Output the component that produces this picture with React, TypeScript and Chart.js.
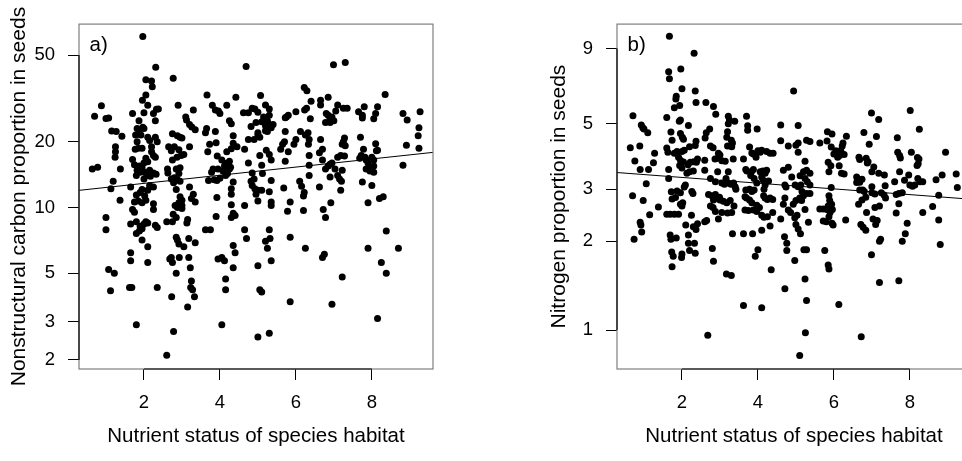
import React, { useEffect, useRef } from "react";
import { Chart, registerables } from "chart.js";

Chart.register(...registerables);

// ---------- shared axis settings ----------
const X_MIN = 0.29;
const X_MAX = 9.61;
const X_TICKS = [2, 4, 6, 8];
const X_TITLE = "Nutrient status of species habitat";

// ---------- panel a: nonstructural carbon ----------
const A_Y_TITLE = "Nonstructural carbon proportion in seeds";
const A_Y_TICKS = [2, 3, 5, 10, 20, 50];
const A_Y_MIN = 1.818;
const A_Y_MAX = 69.3;
const A_FIT_INTERCEPT = 1.0732; // log10 scale
const A_FIT_SLOPE = 0.01867;
const carbonPoints: [number, number][] = [
  [0.64, 15.0], [0.78, 15.3], [0.7, 26.2], [0.88, 29.3], [1.0, 25.6], [1.07, 25.7], [1.0, 9.0], [1.0, 7.9],
  [1.07, 5.2], [1.22, 5.0], [1.12, 4.15], [1.13, 12.2], [1.19, 13.2], [1.15, 22.4], [1.27, 22.3], [1.25, 19.0],
  [1.25, 18.0], [1.24, 17.0], [1.38, 15.0], [1.37, 10.8], [1.42, 21.2],
  [1.97, 60.8], [2.31, 43.9], [2.05, 38.5], [2.2, 38.0], [2.22, 35.8], [1.96, 31.0], [2.05, 32.8], [2.1, 29.4],
  [2.0, 27.2], [1.7, 27.0], [2.25, 27.0], [2.33, 28.2], [2.38, 28.3], [2.3, 25.0], [1.87, 25.0], [1.82, 23.0],
  [1.97, 23.3], [2.0, 23.0], [1.78, 21.5], [1.88, 22.0], [1.92, 21.5], [2.1, 21.0], [2.15, 20.3], [2.3, 21.0],
  [2.35, 20.0], [1.82, 20.0], [1.85, 18.7], [1.77, 18.5], [1.95, 18.7], [2.2, 19.0], [2.2, 18.0], [2.25, 17.3],
  [2.3, 17.0], [2.05, 16.8], [1.7, 16.6], [1.75, 15.7], [1.88, 15.5], [1.95, 15.2], [2.0, 16.0], [2.1, 16.2],
  [1.82, 14.8], [1.9, 14.5], [2.02, 14.5], [2.08, 14.0], [2.15, 14.8], [2.25, 14.4], [2.32, 14.2], [2.0, 13.5],
  [1.8, 14.0], [2.17, 13.9], [2.2, 14.3], [1.65, 12.4], [1.95, 12.1], [2.1, 12.0], [2.15, 12.6], [2.25, 12.4],
  [1.8, 11.4], [1.9, 11.7], [2.02, 11.3], [1.85, 10.7], [1.95, 10.5], [1.75, 10.6], [2.05, 10.8], [2.25, 10.4],
  [2.25, 9.8], [1.7, 9.8], [1.75, 9.5], [2.05, 8.6], [1.65, 8.4], [1.8, 8.6], [1.9, 8.2], [2.0, 8.4],
  [2.1, 8.5], [1.95, 8.0], [2.3, 8.3], [2.35, 8.1], [1.8, 7.6], [1.88, 7.8], [1.95, 7.1], [2.1, 6.6],
  [1.65, 6.2], [1.65, 5.7], [2.1, 5.6], [1.62, 4.3], [1.68, 4.3], [2.35, 4.3], [1.8, 2.9],
  [2.77, 39.1], [2.9, 29.4], [3.3, 28.0], [3.1, 26.0], [3.12, 25.2], [3.2, 24.0], [3.26, 23.4], [3.35, 22.7],
  [2.75, 21.8], [2.88, 21.3], [2.95, 21.0], [3.0, 20.8], [2.8, 19.0], [2.65, 19.0], [2.72, 18.2], [2.92, 18.4],
  [3.2, 19.0], [2.87, 17.0], [2.98, 17.3], [3.05, 17.5], [2.75, 16.5], [2.62, 15.0], [2.63, 14.4], [2.85, 15.0],
  [2.92, 14.3], [2.95, 15.2], [2.8, 13.7], [2.72, 13.5], [2.78, 13.0], [2.88, 13.4], [2.95, 13.2], [2.85, 12.1],
  [3.2, 12.4], [3.3, 11.5], [2.95, 11.2], [3.0, 10.8], [2.92, 10.5], [3.0, 10.2], [2.82, 10.2], [2.88, 10.0],
  [3.0, 9.9], [3.25, 11.0], [3.35, 10.6], [2.77, 9.3], [2.75, 8.6], [2.85, 9.0], [2.6, 8.6], [3.15, 8.8],
  [3.13, 8.5], [2.85, 7.3], [2.88, 7.1], [2.92, 6.8], [3.05, 6.6], [3.18, 7.2], [3.35, 6.9], [2.68, 5.8],
  [2.72, 5.9], [2.75, 5.6], [2.93, 5.9], [3.18, 5.9], [2.85, 5.0], [3.22, 5.3], [3.25, 4.6], [3.23, 4.3],
  [3.28, 4.2], [2.73, 3.9], [3.33, 3.9], [3.15, 3.5], [2.78, 2.7], [2.6, 2.1],
  [3.66, 32.8], [3.8, 29.4], [3.88, 28.0], [3.96, 27.7], [4.0, 27.0], [4.18, 29.4], [4.42, 32.0], [4.25, 25.0],
  [4.3, 24.2], [3.65, 23.0], [3.62, 22.0], [3.88, 22.3], [4.35, 21.3], [3.73, 19.5], [3.9, 19.8], [3.68, 18.0],
  [4.18, 18.0], [4.3, 18.6], [4.35, 19.7], [4.45, 19.0], [3.93, 17.2], [4.05, 16.5], [4.15, 15.9], [4.25, 16.3],
  [3.82, 15.0], [3.78, 14.5], [3.95, 15.0], [4.08, 14.7], [4.12, 15.5], [4.2, 14.3], [4.25, 15.0], [4.15, 14.0],
  [4.28, 15.3], [3.7, 13.3], [3.85, 13.4], [3.92, 13.3], [4.0, 13.6], [4.35, 13.1], [4.3, 12.2], [3.92, 11.1],
  [4.3, 11.5], [4.3, 10.3], [4.35, 9.4], [4.3, 9.0], [4.4, 9.2], [3.9, 9.1], [3.62, 7.9], [3.75, 7.9],
  [4.35, 6.7], [4.4, 6.2], [3.95, 5.8], [4.05, 5.9], [4.12, 5.7], [4.35, 5.3], [4.15, 4.7], [4.15, 4.2],
  [4.05, 2.9],
  [4.69, 44.3], [5.07, 32.6], [4.62, 27.2], [4.75, 27.2], [4.85, 28.5], [4.92, 28.3], [5.0, 27.3], [5.15, 26.0],
  [5.2, 29.5], [5.3, 28.3], [5.3, 26.5], [5.25, 25.0], [5.1, 24.7], [5.2, 23.7], [5.3, 24.0], [5.35, 23.2],
  [5.4, 24.0], [5.25, 22.3], [4.82, 23.5], [4.95, 24.5], [5.0, 22.0], [4.75, 20.5], [4.9, 20.5], [5.0, 21.5],
  [5.05, 21.0], [5.2, 22.5], [4.75, 16.0], [4.65, 18.5], [5.05, 17.3], [5.22, 18.3], [5.3, 17.5], [5.35, 16.5],
  [5.1, 15.6], [4.85, 14.4], [4.9, 13.5], [4.82, 13.2], [4.85, 12.6], [4.92, 12.2], [5.0, 12.0], [4.95, 11.5],
  [5.12, 14.3], [5.1, 12.0], [5.35, 13.3], [5.3, 11.8], [5.0, 10.7], [5.35, 10.6], [5.35, 10.2], [4.65, 10.2],
  [4.65, 7.9], [4.7, 7.2], [5.2, 7.0], [5.25, 6.5], [5.32, 7.2], [5.3, 7.9], [5.35, 5.7], [5.0, 5.4],
  [5.05, 4.2], [5.1, 4.1], [5.0, 2.55], [5.3, 2.65],
  [5.72, 25.8], [5.75, 26.0], [5.8, 26.5], [5.72, 22.3], [5.7, 20.0], [5.72, 16.3], [5.6, 18.5], [5.65, 19.5],
  [5.8, 18.0], [5.68, 12.3], [5.95, 19.5], [6.0, 27.5], [6.12, 22.3], [6.22, 35.5], [6.29, 34.3], [6.23, 28.0],
  [6.28, 28.5], [6.4, 30.7], [6.25, 21.5], [6.32, 22.0], [6.35, 20.5], [6.33, 19.5], [6.35, 17.3], [6.35, 15.6],
  [6.35, 14.0], [6.1, 13.2], [6.15, 12.5], [6.22, 11.7], [6.2, 11.3], [6.2, 9.7], [5.85, 10.6], [5.78, 9.6],
  [5.85, 7.3], [6.25, 6.5], [5.85, 3.7], [6.0, 20.5], [6.38, 25.5],
  [6.99, 45.1], [7.3, 46.2], [6.65, 31.0], [6.65, 29.5], [6.85, 32.0], [6.8, 27.0], [6.85, 26.5], [6.9, 25.5],
  [6.95, 26.0], [7.0, 25.0], [6.78, 24.5], [6.9, 24.5], [7.1, 29.5], [7.05, 27.7], [7.35, 28.5], [7.25, 28.5],
  [6.65, 20.5], [6.7, 18.5], [6.62, 17.8], [6.7, 16.5], [6.78, 15.0], [6.85, 15.5], [6.9, 15.8], [6.95, 16.0],
  [7.03, 15.0], [7.1, 17.0], [7.18, 17.3], [7.28, 17.2], [7.25, 20.0], [7.3, 19.2], [7.22, 19.5], [7.28, 20.8],
  [7.1, 14.0], [7.15, 13.5], [7.2, 13.2], [7.22, 14.8], [6.9, 13.8], [6.62, 12.4], [7.18, 12.0], [6.92, 10.5],
  [6.72, 9.8], [6.78, 9.0], [6.7, 5.9], [6.75, 6.1], [7.22, 4.8], [6.95, 3.6],
  [7.65, 27.5], [7.75, 26.5], [7.8, 29.0], [7.75, 25.7], [8.1, 27.0], [8.15, 29.0], [8.05, 25.5], [8.35, 33.0],
  [7.7, 21.0], [7.78, 18.5], [7.72, 17.3], [7.68, 16.8], [7.82, 17.0], [7.85, 16.5], [7.9, 16.0], [7.85, 15.0],
  [7.95, 14.7], [8.0, 17.0], [8.05, 16.5], [8.05, 15.5], [8.1, 19.6], [8.12, 18.2], [8.15, 18.3], [8.05, 14.5],
  [7.95, 15.2], [7.75, 13.1], [8.0, 12.6], [7.9, 10.5], [8.2, 11.0], [8.3, 11.2], [7.9, 6.5], [8.38, 7.8],
  [8.25, 5.6], [8.38, 5.0], [8.15, 3.1],
  [8.82, 27.0], [8.93, 25.2], [9.27, 27.5], [9.24, 23.2], [9.22, 21.3], [9.24, 18.7], [8.91, 19.3], [8.82, 15.6],
  [8.7, 6.5],
];

// ---------- panel b: nitrogen ----------
const B_Y_TITLE = "Nitrogen proportion in seeds";
const B_Y_TICKS = [1, 2, 3, 5, 9];
const B_Y_MIN = 0.738;
const B_Y_MAX = 10.88;
const B_FIT_INTERCEPT = 0.5365; // log10 scale
const B_FIT_SLOPE = -0.0097;
const nitrogenPoints: [number, number][] = [
  [0.64, 4.15], [0.71, 5.32], [0.76, 3.74], [0.7, 2.85], [0.74, 2.03], [0.89, 4.2], [0.9, 3.5], [0.93, 4.95],
  [0.97, 4.85], [1.0, 4.8], [1.1, 4.66], [1.06, 3.13], [0.98, 2.75], [0.9, 2.32], [0.92, 2.27], [0.94, 2.15],
  [1.15, 2.46], [1.12, 3.5], [1.25, 3.69], [1.28, 3.97], [1.38, 2.61],
  [1.67, 9.9], [1.65, 7.5], [1.67, 7.1], [1.97, 7.66], [2.0, 6.57], [1.85, 6.2], [1.84, 6.07], [1.94, 5.77],
  [1.8, 5.67], [2.32, 8.66], [2.35, 6.45], [2.37, 5.9], [1.6, 5.25], [1.93, 5.1], [1.96, 5.15], [2.17, 4.93],
  [1.71, 4.69], [1.96, 4.63], [2.01, 4.5], [1.74, 4.4], [2.04, 4.43], [2.2, 4.18], [1.6, 4.14], [1.63, 4.0],
  [1.8, 3.97], [1.87, 4.03], [2.0, 4.03], [2.06, 4.07], [2.37, 4.36], [2.35, 4.22], [1.65, 3.5], [1.91, 3.85],
  [1.96, 3.76], [2.04, 3.71], [1.94, 3.61], [2.0, 3.54], [2.16, 3.63], [2.22, 3.7], [2.31, 3.72], [2.38, 3.7],
  [2.41, 3.8], [2.13, 3.4], [2.2, 3.44], [2.3, 3.46], [1.65, 3.26], [1.72, 2.94], [1.87, 2.96], [1.96, 2.92],
  [2.06, 3.05], [2.09, 3.1], [2.26, 2.95], [2.29, 2.9], [1.74, 2.78], [1.83, 2.81], [1.96, 2.67], [2.0, 2.63],
  [2.02, 2.7], [1.6, 2.47], [1.69, 2.47], [1.8, 2.47], [1.91, 2.47], [2.25, 2.45], [2.1, 2.27], [2.3, 2.24],
  [2.37, 2.19], [2.41, 2.29], [1.69, 2.1], [1.71, 2.03], [1.85, 2.05], [2.17, 2.1], [2.17, 1.97], [2.33, 1.97],
  [1.73, 1.84], [1.77, 1.78], [2.0, 1.81], [1.99, 1.76], [2.2, 1.86], [2.35, 1.82], [1.74, 1.64],
  [2.63, 5.9], [2.83, 5.72], [2.89, 5.39], [2.73, 4.8], [2.64, 4.66], [2.61, 4.47], [2.75, 4.2], [2.82, 4.15],
  [3.22, 5.3], [3.25, 5.15], [3.22, 5.0], [3.39, 5.1], [3.2, 4.7], [3.18, 4.5], [3.3, 4.4], [3.33, 4.3],
  [3.2, 4.2], [3.31, 4.18], [2.96, 3.97], [3.0, 3.92], [2.87, 3.8], [2.94, 3.82], [3.05, 3.75], [3.14, 3.73],
  [3.35, 3.8], [2.6, 3.76], [2.6, 3.48], [2.75, 3.26], [2.88, 3.18], [2.94, 3.44], [3.05, 3.15], [3.12, 3.12],
  [3.22, 3.15], [3.29, 3.12], [3.36, 3.15], [3.16, 3.26], [3.22, 3.44], [3.42, 3.0], [3.4, 3.06], [2.7, 2.88],
  [2.79, 2.85], [2.88, 2.88], [2.83, 2.76], [2.94, 2.79], [2.99, 2.82], [2.75, 2.63], [2.82, 2.6], [2.88, 2.52],
  [3.0, 2.76], [3.09, 2.73], [3.18, 2.7], [3.27, 2.75], [2.96, 2.38], [3.05, 2.5], [3.2, 2.49], [3.31, 2.5],
  [3.37, 2.63], [2.6, 2.33], [2.65, 2.35], [2.8, 1.89], [2.83, 1.71], [3.17, 1.55], [3.3, 1.53], [3.33, 2.12],
  [2.68, 0.96],
  [3.7, 5.3], [3.73, 4.92], [3.73, 4.75], [3.98, 4.8], [3.62, 3.8], [3.68, 3.5], [3.71, 3.46], [3.78, 4.17],
  [3.84, 3.98], [3.88, 3.95], [4.0, 4.05], [4.06, 4.0], [4.1, 4.07], [3.95, 3.85], [4.23, 4.03], [4.32, 3.97],
  [4.4, 3.97], [3.83, 3.44], [3.81, 3.34], [3.9, 3.26], [3.97, 3.15], [3.88, 3.5], [4.06, 3.44], [4.13, 3.46],
  [4.19, 3.4], [4.23, 3.48], [4.1, 3.3], [4.14, 3.22], [4.19, 3.1], [4.16, 3.0], [4.28, 3.2], [3.68, 2.98],
  [3.78, 3.0], [3.84, 2.95], [3.9, 2.98], [3.66, 2.83], [3.7, 2.8], [3.78, 2.76], [3.84, 2.7], [3.97, 2.65],
  [4.04, 2.6], [4.15, 2.85], [4.19, 2.8], [4.25, 2.77], [4.32, 2.8], [4.39, 2.77], [3.66, 2.55], [3.75, 2.54],
  [3.88, 2.55], [3.97, 2.52], [4.1, 2.45], [4.16, 2.41], [4.25, 2.42], [4.39, 2.5], [3.62, 2.12], [3.86, 2.12],
  [4.1, 2.18], [4.32, 2.25], [4.0, 1.87], [3.93, 1.78], [4.35, 1.6], [3.62, 1.21], [4.1, 1.19],
  [4.94, 6.45], [4.6, 4.95], [5.06, 4.93], [4.6, 4.38], [4.8, 4.2], [5.0, 4.23], [5.06, 4.3], [5.28, 4.4],
  [5.37, 4.35], [5.06, 4.0], [5.24, 3.73], [4.67, 3.48], [4.8, 3.56], [4.89, 3.3], [4.98, 3.1], [4.71, 3.1],
  [4.74, 3.05], [5.11, 3.33], [5.2, 3.44], [5.28, 3.48], [5.37, 3.4], [5.24, 3.26], [5.3, 3.18], [5.37, 3.1],
  [5.06, 3.06], [5.13, 3.1], [5.16, 2.95], [5.2, 2.85], [5.28, 2.9], [5.37, 2.9], [4.71, 2.8], [4.67, 2.67],
  [4.93, 2.67], [5.0, 2.75], [4.8, 2.55], [4.86, 2.5], [5.1, 2.8], [5.15, 2.75], [5.24, 2.56], [4.97, 2.4],
  [5.03, 2.45], [4.6, 2.38], [5.0, 2.28], [5.06, 2.2], [5.33, 2.32], [5.12, 2.12], [4.7, 2.07], [4.76, 1.97],
  [4.76, 1.86], [4.97, 1.72], [5.21, 1.87], [5.28, 1.87], [4.71, 1.38], [5.24, 1.49], [5.28, 1.26], [5.25, 0.98],
  [5.1, 0.82],
  [5.63, 4.3], [5.83, 4.7], [5.95, 4.62], [5.82, 4.37], [5.93, 4.17], [6.05, 4.05], [6.13, 4.0], [6.18, 4.06],
  [6.24, 4.3], [6.22, 4.2], [6.33, 4.54], [6.27, 3.93], [6.15, 3.9], [6.1, 3.85], [6.0, 3.95], [5.85, 3.7],
  [5.92, 3.6], [6.14, 3.6], [5.87, 3.44], [6.2, 3.4], [6.27, 3.38], [5.93, 3.04], [5.87, 2.85], [5.89, 2.75],
  [5.85, 2.63], [5.94, 2.67], [5.63, 2.57], [5.72, 2.57], [5.82, 2.56], [5.96, 2.56], [5.9, 2.5], [5.87, 2.42],
  [5.72, 2.34], [5.8, 2.33], [5.95, 2.3], [5.98, 2.27], [6.31, 2.36], [5.76, 1.86], [5.85, 1.66], [5.87, 1.61],
  [6.13, 1.22],
  [6.79, 4.67], [6.99, 5.44], [7.18, 5.17], [7.12, 4.53], [6.93, 4.26], [6.66, 3.85], [6.68, 3.78], [6.85, 3.82],
  [6.9, 3.72], [6.88, 3.68], [7.05, 3.57], [7.0, 3.44], [7.18, 3.4], [7.33, 3.35], [6.6, 3.3], [6.65, 3.22],
  [6.74, 3.24], [6.6, 3.16], [6.68, 3.17], [7.0, 3.06], [7.35, 3.08], [6.68, 2.98], [6.76, 2.98], [6.8, 2.95],
  [7.0, 2.92], [7.08, 2.89], [7.25, 2.92], [7.32, 2.87], [6.65, 2.67], [6.74, 2.76], [6.84, 2.82], [7.36, 2.8],
  [6.86, 2.5], [7.08, 2.6], [7.2, 2.63], [7.03, 2.38], [7.14, 2.35], [7.1, 2.28], [6.71, 2.28], [6.77, 2.23],
  [6.84, 2.18], [7.2, 2.0], [7.23, 2.03], [6.99, 1.8], [7.2, 1.45], [6.72, 0.95],
  [7.67, 4.48], [8.01, 5.55], [8.25, 4.79], [7.68, 4.0], [7.73, 3.9], [7.75, 3.83], [8.04, 4.0], [8.2, 3.84],
  [8.24, 3.8], [8.22, 3.66], [8.19, 3.61], [7.73, 3.44], [7.97, 3.35], [7.86, 3.22], [7.6, 3.18], [7.64, 2.88],
  [7.71, 2.9], [7.8, 2.92], [8.0, 3.1], [8.07, 3.07], [8.13, 3.1], [8.21, 3.26], [8.27, 3.18], [8.34, 3.18],
  [7.71, 2.68], [7.64, 2.49], [8.34, 2.5], [7.93, 2.3], [7.88, 2.12], [7.8, 2.0], [7.71, 1.47],
  [8.6, 2.62], [8.69, 3.23], [8.76, 2.86], [8.85, 3.35], [8.94, 4.0], [8.76, 2.36], [8.8, 1.95], [9.22, 3.38],
  [9.25, 3.04],
];

const FONT = '"Liberation Sans", Arial, sans-serif';
const POINT_RADIUS = 3.5;

const framePlugin = {
  id: "frame",
  afterDraw(chart: any, _args: any, opts: any) {
    const { ctx, chartArea } = chart;
    const { left, right, top, bottom } = chartArea;
    const xs = chart.scales.x;
    const ys = chart.scales.y;
    ctx.save();
    ctx.strokeStyle = "#7f7f7f";
    ctx.lineWidth = 1.2;
    ctx.strokeRect(left, top, right - left, bottom - top);
    ctx.strokeStyle = "#000";
    ctx.lineWidth = 1.2;
    ctx.beginPath();
    const xt = opts.xTicks as number[];
    const yt = opts.yTicks as number[];
    ctx.moveTo(xs.getPixelForValue(xt[0]), bottom);
    ctx.lineTo(xs.getPixelForValue(xt[xt.length - 1]), bottom);
    ctx.moveTo(left, ys.getPixelForValue(yt[0]));
    ctx.lineTo(left, ys.getPixelForValue(yt[yt.length - 1]));
    ctx.stroke();
    ctx.fillStyle = "#000";
    ctx.font = `20.5px ${FONT}`;
    ctx.textBaseline = "alphabetic";
    ctx.textAlign = "left";
    ctx.fillText(opts.label, left + 10.5, top + 27);
    ctx.restore();
  },
};

type PanelProps = {
  points: [number, number][];
  yMin: number;
  yMax: number;
  yTicks: number[];
  yTitle: string;
  label: string;
  intercept: number;
  slope: number;
  left: number;
  width: number;
  yAxisWidth: number;
  padRight: number;
  yTitlePad: number;
};

function Panel(p: PanelProps) {
  const ref = useRef<HTMLCanvasElement>(null);
  useEffect(() => {
    const fit = (x: number) => Math.pow(10, p.intercept + p.slope * x);
    const chart = new Chart(ref.current as HTMLCanvasElement, {
      type: "scatter",
      data: {
        datasets: [
          {
            type: "line",
            data: [
              { x: X_MIN, y: fit(X_MIN) },
              { x: X_MAX, y: fit(X_MAX) },
            ],
            borderColor: "#000",
            borderWidth: 1,
            pointRadius: 0,
            fill: false,
          } as any,
          {
            data: p.points.map(([x, y]) => ({ x, y })),
            backgroundColor: "#000",
            borderColor: "#000",
            borderWidth: 0,
            pointRadius: POINT_RADIUS,
          },
        ],
      },
      options: {
        animation: false,
        responsive: false,
        devicePixelRatio: 1,
        events: [],
        layout: { padding: { left: 0, right: p.padRight, top: 15, bottom: 0 } },
        plugins: {
          legend: { display: false },
          tooltip: { enabled: false },
          frame: { label: p.label, xTicks: X_TICKS, yTicks: p.yTicks },
        } as any,
        scales: {
          x: {
            type: "linear",
            min: X_MIN,
            max: X_MAX,
            bounds: "data",
            afterBuildTicks: (s: any) => {
              s.ticks = X_TICKS.map((v) => ({ value: v }));
            },
            afterFit: (s: any) => {
              s.height = 92;
            },
            grid: {
              display: true,
              drawOnChartArea: false,
              drawTicks: true,
              tickLength: 11,
              tickColor: "#000",
              tickWidth: 1,
              lineWidth: 1,
            },
            border: { display: false },
            ticks: {
              autoSkip: false,
              maxRotation: 0,
              minRotation: 0,
              padding: 12,
              color: "#000",
              font: { family: FONT, size: 18.5 },
              callback: (v: any) => String(v),
            },
            title: {
              display: true,
              text: X_TITLE,
              color: "#000",
              font: { family: FONT, size: 20.5 },
              padding: { top: 0, bottom: 12 },
            },
          },
          y: {
            type: "logarithmic",
            min: p.yMin,
            max: p.yMax,
            bounds: "data",
            afterBuildTicks: (s: any) => {
              s.ticks = p.yTicks.map((v) => ({ value: v }));
            },
            afterFit: (s: any) => {
              s.width = p.yAxisWidth;
            },
            grid: {
              display: true,
              drawOnChartArea: false,
              drawTicks: true,
              tickLength: 11,
              tickColor: "#000",
              tickWidth: 1,
              lineWidth: 1,
            },
            border: { display: false },
            ticks: {
              autoSkip: false,
              padding: 13,
              color: "#000",
              font: { family: FONT, size: 18.5 },
              callback: (v: any) => String(v),
            },
            title: {
              display: true,
              text: p.yTitle,
              color: "#000",
              font: { family: FONT, size: 21 },
              padding: { top: p.yTitlePad, bottom: 0 },
            },
          },
        },
      } as any,
      plugins: [framePlugin],
    });
    return () => chart.destroy();
  }, []);
  return (
    <canvas
      ref={ref}
      width={p.width}
      height={461}
      style={{ position: "absolute", left: p.left, top: 0, width: p.width, height: 461 }}
    />
  );
}

export default function App() {
  return (
    <div
      style={{
        position: "fixed",
        left: 0,
        top: 0,
        width: 962,
        height: 461,
        overflow: "hidden",
        background: "#fff",
      }}
    >
      <Panel
        points={carbonPoints}
        yMin={A_Y_MIN}
        yMax={A_Y_MAX}
        yTicks={A_Y_TICKS}
        yTitle={A_Y_TITLE}
        label="a)"
        intercept={A_FIT_INTERCEPT}
        slope={A_FIT_SLOPE}
        left={0}
        width={480}
        yAxisWidth={79}
        padRight={47}
        yTitlePad={7}
      />
      <Panel
        points={nitrogenPoints}
        yMin={B_Y_MIN}
        yMax={B_Y_MAX}
        yTicks={B_Y_TICKS}
        yTitle={B_Y_TITLE}
        label="b)"
        intercept={B_FIT_INTERCEPT}
        slope={B_FIT_SLOPE}
        left={480}
        width={500}
        yAxisWidth={137}
        padRight={9}
        yTitlePad={67}
      />
    </div>
  );
}
